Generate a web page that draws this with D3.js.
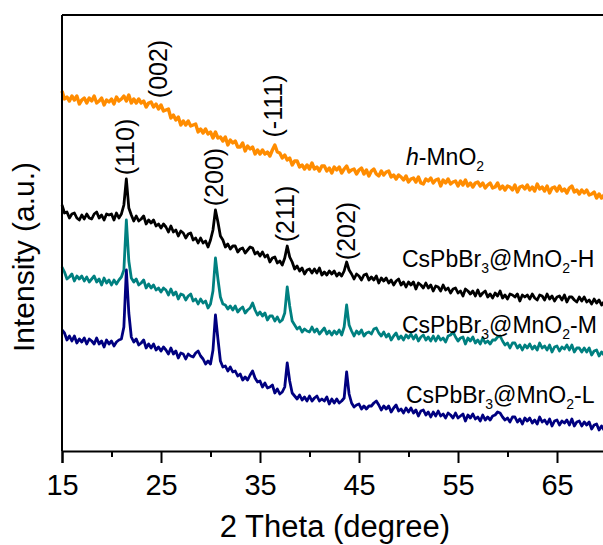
<!DOCTYPE html>
<html>
<head>
<meta charset="utf-8">
<script src="https://cdn.jsdelivr.net/npm/d3@7/dist/d3.min.js"></script>
<style>
  body { margin: 0; background: #fff; }
  svg { display: block; }
  text { font-family: "Liberation Sans", Arial, sans-serif; fill: #000; }
</style>
</head>
<body>
<svg width="603" height="545"></svg>
<script>
// XRD patterns, sampled every 0.25 degree from 15 to 70 (2 theta)
var thetaStart = 15, thetaStep = 0.25;

var mno2 = [
  360,352,354,350,355,351,355,347,351,353,
  348,353,350,355,348,350,353,346,351,349,
  352,347,354,350,352,355,350,356,348,352,
  348,352,348,350,344,348,349,344,347,342,
  346,340,341,342,333,336,331,334,326,330,
  326,330,325,326,327,319,322,318,322,317,
  319,313,319,313,314,310,314,306,311,308,
  310,304,304,308,300,305,302,304,297,301,
  297,301,297,299,295,301,306,299,298,293,
  296,291,293,286,290,290,284,286,282,286,
  282,288,282,284,280,285,285,280,283,278,
  284,281,284,278,282,285,279,281,282,277,
  281,283,277,281,275,280,282,277,275,280,
  276,279,280,274,276,272,276,274,271,275,
  269,272,273,269,274,268,267,272,270,273,
  268,271,272,265,271,268,272,267,269,270,
  265,270,266,271,265,268,264,268,269,265,
  268,263,266,268,263,264,268,262,265,261,
  265,264,261,266,259,264,265,262,266,261,
  264,260,267,262,264,260,265,258,263,264,
  260,265,260,262,258,263,265,259,261,257,
  261,258,261,256,257,259,253,257,253,256,253
];

var csH = [
  246,238,239,233,237,238,233,231,236,232,
  237,233,232,237,239,233,236,231,237,236,
  237,231,238,233,237,246,272,243,236,230,
  235,230,232,235,227,231,228,231,225,227,
  223,227,224,219,225,219,221,215,220,218,
  213,217,218,211,213,208,213,208,210,204,
  211,221,241,229,215,211,204,207,202,205,
  205,199,202,203,198,201,204,203,197,199,
  195,199,194,196,189,193,194,188,190,186,
  193,205,194,189,182,185,180,183,177,181,
  182,178,182,178,183,176,179,176,180,177,
  180,175,178,175,180,189,181,177,172,177,
  175,171,176,177,171,174,171,175,168,173,
  170,173,168,171,166,170,172,166,169,164,
  169,166,169,162,168,166,163,168,163,166,
  160,165,164,160,166,161,163,158,162,163,
  158,160,155,162,160,157,160,155,161,155,
  158,160,154,157,153,158,155,160,153,156,
  152,157,156,154,157,150,156,154,156,152,
  157,153,151,156,155,151,157,152,155,150,
  154,155,151,156,149,154,154,151,149,154,
  150,154,149,151,147,152,148,151,146,149,147
];

var csM = [
  184,179,172,174,177,170,175,172,175,170,
  174,169,172,175,169,172,166,173,168,171,
  166,171,167,171,174,181,231,190,173,169,
  172,166,168,171,163,167,163,166,161,163,
  159,163,161,156,162,156,159,152,157,156,
  151,155,157,150,152,147,152,148,150,143,
  147,160,193,172,154,147,146,142,145,141,
  145,139,142,144,138,141,143,148,141,136,
  139,135,138,131,135,135,130,134,129,131,
  138,164,145,130,126,122,124,119,122,120,
  119,124,119,122,117,120,123,117,120,116,
  120,117,121,116,124,146,126,120,115,120,
  117,121,115,118,119,117,122,123,118,115,
  119,114,117,111,115,118,112,115,111,116,
  113,117,112,116,110,114,116,111,114,110,
  115,110,115,111,113,109,115,116,119,114,
  110,113,114,107,113,110,114,108,111,107,
  113,108,110,107,111,111,114,115,110,106,
  108,103,108,108,103,106,101,106,103,107,
  102,105,101,108,103,105,101,106,99,104,
  105,100,104,102,106,101,106,99,103,103,
  99,103,99,103,96,100,101,95,99,96,98
];

var csL = [
  121,118,111,115,110,115,108,112,109,113,
  107,112,110,107,113,107,110,104,111,107,
  110,105,109,111,112,124,181,138,114,109,
  112,106,108,111,103,107,103,107,101,104,
  100,104,101,97,103,97,100,93,98,97,
  92,97,95,94,98,100,95,92,87,90,
  87,101,136,112,90,84,85,80,84,79,
  80,75,77,71,74,71,76,80,73,69,
  70,64,68,63,64,66,58,62,57,59,
  64,88,70,58,55,52,56,51,54,50,
  55,50,53,55,50,52,50,54,47,52,
  48,52,48,50,53,79,57,48,44,46,
  47,42,45,42,45,45,48,50,46,41,
  45,42,45,39,43,46,40,42,38,43,
  39,43,38,41,35,40,41,36,39,34,
  39,35,40,35,37,33,38,36,33,38,
  33,35,37,30,36,33,37,32,34,30,
  36,31,34,31,35,36,39,38,34,31,
  33,29,34,34,29,32,27,33,30,33,
  28,31,27,34,29,31,27,32,25,30,
  31,26,30,28,31,26,32,25,29,30,
  25,29,26,29,22,26,27,21,25,21,24
];

var seriesColors = ['#000080', '#008080', '#000000', '#ff8c00'];
var seriesWidths = [2.8, 2.8, 2.8, 3.4];

var xTicksMajor = [15, 25, 35, 45, 55, 65];
var xTicksMinor = [20, 30, 40, 50, 60, 70];

// Miller indices marked over the peaks
var peakNames = ['(110)', '(002)', '(-111)', '(200)', '(211)', '(202)'];
var peakTheta = [21.5, 24.8, 36.4, 30.5, 37.6, 43.75];

var svg = d3.select('svg');

var scaleX = d3.scaleLinear().domain([15, 70]).range([62, 606.5]);
var scaleY = d3.scaleLinear().domain([0, 436]).range([451, 15]);

var theta = d3.range(mno2.length).map(function(i){ return thetaStart + i * thetaStep; });

var line = d3.line()
    .x(function(d, i){ return scaleX(theta[i]); })
    .y(function(d){ return scaleY(d); });

[csL, csM, csH, mno2].forEach(function(s, k){
    svg.append('path')
        .datum(s)
        .attr('d', line)
        .attr('fill', 'none')
        .attr('stroke', seriesColors[k])
        .attr('stroke-width', seriesWidths[k])
        .attr('stroke-linejoin', 'round');
});

// frame: left and top edges
svg.append('line').attr('x1', 62).attr('x2', 62).attr('y1', 15).attr('y2', 451)
    .attr('stroke', '#000').attr('stroke-width', 2);
svg.append('line').attr('x1', 62).attr('x2', 610).attr('y1', 15).attr('y2', 15)
    .attr('stroke', '#000').attr('stroke-width', 2);

var xAxis = svg.append('g')
    .attr('transform', 'translate(0,451)')
    .call(d3.axisBottom(scaleX).tickValues(xTicksMajor).tickSize(12).tickPadding(8).tickFormat(d3.format('d')));
xAxis.select('.domain').attr('stroke-width', 2);
xAxis.selectAll('.tick line').attr('stroke-width', 2);
xAxis.selectAll('.tick text')
    .style('font-size', '29px')
    .style('font-family', '"Liberation Sans", Arial, sans-serif')
    .attr('y', 44).attr('dy', 0);

svg.append('g')
    .attr('transform', 'translate(0,451)')
    .call(d3.axisBottom(scaleX).tickValues(xTicksMinor).tickSize(6).tickFormat(''))
    .call(function(g){ g.select('.domain').remove(); })
    .selectAll('.tick line').attr('stroke-width', 2);

svg.append('text')
    .text('2 Theta (degree)')
    .attr('text-anchor', 'middle')
    .attr('transform', 'translate(335,537)')
    .style('font-size', '31px');

svg.append('text')
    .text('Intensity (a.u.)')
    .attr('text-anchor', 'middle')
    .attr('transform', 'translate(34,257)rotate(-90)')
    .style('font-size', '30px');

// peak labels, vertical
var peakLabelY = [147, 69, 106, 177, 214, 231];
peakNames.forEach(function(name, k){
    svg.append('text')
        .text(name)
        .attr('text-anchor', 'middle')
        .attr('transform', 'translate(' + (scaleX(peakTheta[k]) + 8) + ',' + peakLabelY[k] + ')rotate(-90)')
        .style('font-size', '25px');
});

// sample names
var t = svg.append('text').attr('x', 406).attr('y', 165).style('font-size', '23px');
t.append('tspan').text('h').style('font-style', 'italic');
t.append('tspan').text('-MnO');
t.append('tspan').text('2').attr('dy', 6).style('font-size', '14px');

function sampleLabel(x, y, tail){
    var s = svg.append('text').attr('x', x).attr('y', y).style('font-size', '23px');
    s.append('tspan').text('CsPbBr');
    s.append('tspan').text('3').attr('dy', 6).style('font-size', '14px');
    s.append('tspan').text('@MnO').attr('dy', -6);
    s.append('tspan').text('2').attr('dy', 6).style('font-size', '14px');
    s.append('tspan').text(tail).attr('dy', -6);
}
sampleLabel(402, 267, '-H');
sampleLabel(402, 333, '-M');
sampleLabel(406, 403, '-L');
</script>
</body>
</html>
